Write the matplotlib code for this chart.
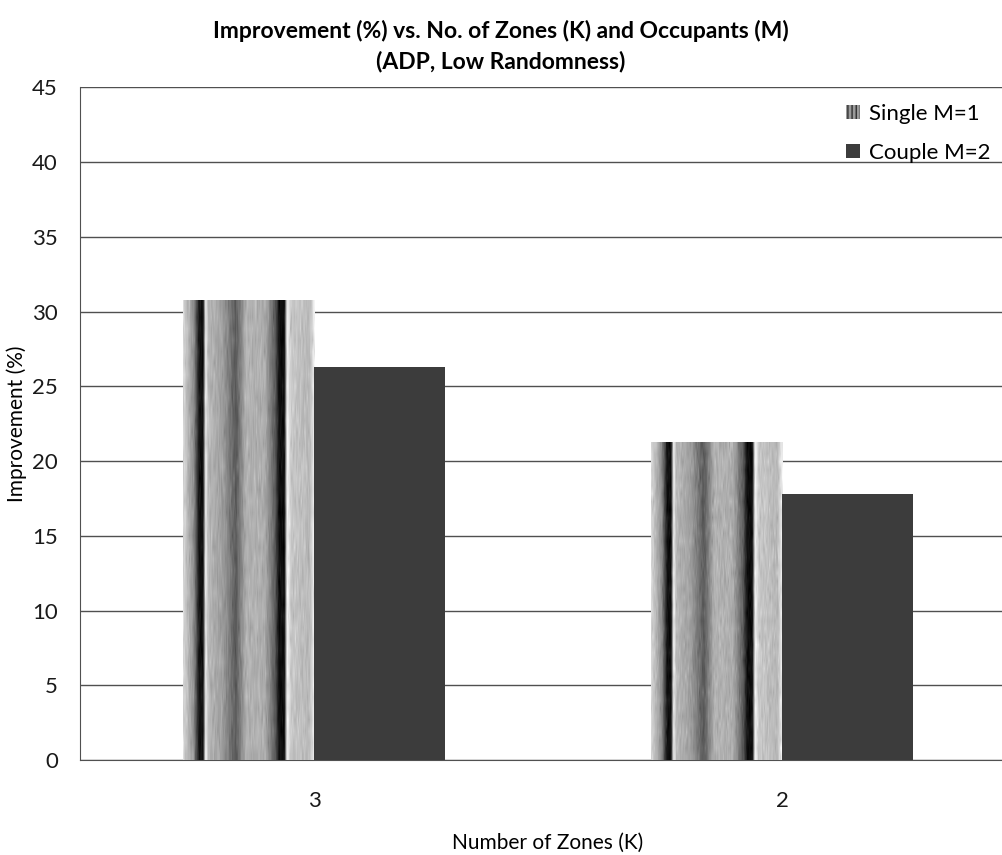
"""Improvement (%) vs number of zones, ADP low randomness: grouped bars."""
import numpy as np
import matplotlib.pyplot as plt
from matplotlib.patches import Patch

zones = ['3', '2']
single = [30.7, 21.2]
couple = [26.3, 17.8]
series_labels = ['Single M=1', 'Couple M=2']

plt.rcParams['font.family'] = ['Lato', 'DejaVu Sans']

# gray profile across a striped bar (0 = left edge, 1 = right edge)
STRIPE_POS = [0.0, 0.08, 0.12, 0.15, 0.17, 0.19, 0.30, 0.40, 0.48, 0.62, 0.70, 0.73, 0.77, 0.79, 0.82, 0.96, 1.0]
STRIPE_GRAY = [0.85, 0.55, 0.08, 0.05, 0.95, 0.72, 0.62, 0.35, 0.70, 0.68, 0.35, 0.05, 0.05, 0.97, 0.78, 0.72, 0.95]

fig = plt.figure(figsize=(10.02, 8.55), dpi=100)
ax = fig.add_axes([0.080, 0.111, 0.934, 0.787])

w = 0.28
x = np.arange(len(zones))
ax.set_xlim(-0.5, len(zones) - 0.5)
ax.set_ylim(0, 45)

u = np.linspace(0, 1, 200)
prof = np.interp(u, STRIPE_POS, STRIPE_GRAY)
rng = np.random.default_rng(3)
for xi, v in zip(x, single):
    img = np.tile(prof, (40, 1)) + rng.normal(0, 0.04, (40, 200))
    ax.imshow(np.clip(img, 0, 1), cmap='gray', vmin=0, vmax=1, aspect='auto',
              extent=[xi - w, xi, 0, v], zorder=3, interpolation='bilinear')
ax.bar(x + w / 2, couple, width=w, color='#3c3c3c', zorder=3, linewidth=0)

ax.set_yticks(np.arange(0, 46, 5))
ax.set_xticks(x)
ax.set_xticklabels(zones)
ax.grid(axis='y', color='#505050', linewidth=1.0, zorder=0)
ax.tick_params(length=0, labelsize=16, colors='#1a1a1a')
ax.tick_params(axis='x', pad=22)
ax.tick_params(axis='y', pad=16)
for s in ['top', 'right']:
    ax.spines[s].set_visible(False)
for s in ['left', 'bottom']:
    ax.spines[s].set_color('#505050')

ax.set_ylabel('Improvement (%)', fontsize=15, labelpad=4)
ax.set_xlabel('Number of Zones (K)', fontsize=15, labelpad=16)
fig.text(0.5, 0.946, 'Improvement (%) vs. No. of Zones (K) and Occupants (M)\n(ADP, Low Randomness)',
         ha='center', va='center', fontsize=16.5, fontweight='bold', linespacing=1.45)

handles = [Patch(facecolor='#9a9a9a', hatch='||||', edgecolor='#303030', linewidth=0),
           Patch(facecolor='#3c3c3c')]
fig.legend(handles, series_labels, loc='upper right', bbox_to_anchor=(1.008, 0.902),
           frameon=False, fontsize=16, handlelength=0.6, handleheight=0.6,
           handletextpad=0.4, labelspacing=0.85)

fig.savefig('out.png', dpi=100)
